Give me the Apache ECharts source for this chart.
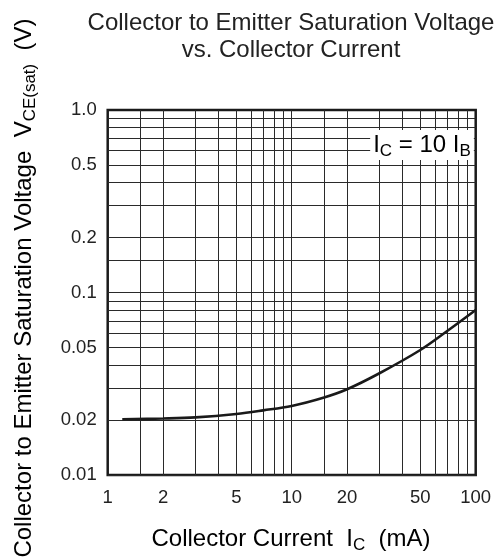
<!DOCTYPE html>
<html><head><meta charset="utf-8">
<script src="https://cdn.jsdelivr.net/npm/echarts@6/dist/echarts.min.js"></script>
<style>html,body{margin:0;padding:0;background:#fff}#c{width:503px;height:559px}</style>
</head><body><div id="c"></div>
<script>
// Curve: collector current (mA) vs VCE(sat) (V), IC = 10 IB
const currentMA = [1.2, 2, 3, 5, 7, 10, 15, 20, 30, 50, 70, 100];
const vceSat    = [0.0202, 0.0204, 0.0207, 0.0216, 0.0226, 0.0239, 0.0266, 0.0295, 0.0361, 0.0484, 0.0615, 0.0802];

// Grid lines
const xGridValues = [1.5, 2, 3, 4, 5, 6, 7, 8, 9, 10, 15, 20, 30, 40, 50, 60, 70, 80, 90];
const yGridValues = [0.015, 0.02, 0.03, 0.04, 0.05, 0.06, 0.07, 0.08, 0.09, 0.1, 0.15, 0.2, 0.3, 0.4, 0.5, 0.6, 0.7, 0.8, 0.9];

// Tick labels
const xTickValues = [1, 2, 5, 10, 20, 50, 100];
const xTickLabels = ['1', '2', '5', '10', '20', '50', '100'];
const yTickValues = [0.01, 0.02, 0.05, 0.1, 0.2, 0.5, 1];
const yTickLabels = ['0.01', '0.02', '0.05', '0.1', '0.2', '0.5', '1.0'];

const FONT = "'Liberation Sans', Arial, sans-serif";
const chart = echarts.init(document.getElementById('c'), null, {renderer: 'canvas'});

const gridLineStyle = {color: '#2a2a2a', width: 1, type: 'solid'};
const hiddenLine = {color: 'rgba(0,0,0,0)', width: 1, type: 'solid'};
const labelFont = {color: '#222', fontSize: 18.5, fontFamily: FONT};
const markData = [];
xGridValues.forEach(v => markData.push({xAxis: v, lineStyle: gridLineStyle, label: {show: false}}));
yGridValues.forEach(v => markData.push({yAxis: v, lineStyle: gridLineStyle, label: {show: false}}));
xTickValues.forEach((v, i) => markData.push({
  xAxis: v, lineStyle: hiddenLine,
  label: Object.assign({show: true, position: 'start', distance: 13, formatter: xTickLabels[i]}, labelFont)
}));
yTickValues.forEach((v, i) => markData.push({
  yAxis: v, lineStyle: hiddenLine,
  label: Object.assign({show: true, position: 'start', distance: 11, formatter: yTickLabels[i]}, labelFont)
}));

const main = {fontSize: 24, fontFamily: FONT, color: '#222', lineHeight: 30};
const sub = {fontSize: 17, fontFamily: FONT, color: '#222', lineHeight: 17, verticalAlign: 'bottom'};

chart.setOption({
  animation: false,
  backgroundColor: '#fff',
  grid: {left: 107.7, right: 27.3, top: 110, bottom: 84, show: true,
         borderColor: '#1a1a1a', borderWidth: 2.5, backgroundColor: 'transparent'},
  xAxis: {type: 'log', logBase: 10, min: 1, max: 100,
          axisLine: {show: false}, axisTick: {show: false}, axisLabel: {show: false},
          splitLine: {show: false}, minorSplitLine: {show: false}},
  yAxis: {type: 'log', logBase: 10, min: 0.01, max: 1,
          axisLine: {show: false}, axisTick: {show: false}, axisLabel: {show: false},
          splitLine: {show: false}, minorSplitLine: {show: false}},
  series: [{
    type: 'line',
    data: currentMA.map((x, i) => [x, vceSat[i]]),
    smooth: 0.35,
    showSymbol: false,
    symbol: 'none',
    lineStyle: {color: '#1a1a1a', width: 2.6},
    z: 5,
    markLine: {silent: true, symbol: ['none', 'none'], animation: false, data: markData, z: 1,
               label: Object.assign({}, labelFont)}
  }],
  graphic: [
    {type: 'text', x: 291, y: 9.5, z: 10,
     style: {text: 'Collector to Emitter Saturation Voltage\nvs. Collector Current',
             textAlign: 'center', textVerticalAlign: 'top',
             fontSize: 24, fontFamily: FONT, fill: '#222', lineHeight: 27}},
    {type: 'text', x: 291, y: 539, z: 10,
     style: {text: '{a|Collector Current  I}{s|C}{a|  (mA)}',
             textAlign: 'center', textVerticalAlign: 'middle',
             rich: {a: main, s: sub}}},
    {type: 'text', x: 24, y: 288, rotation: Math.PI / 2, z: 10,
     style: {text: '{a|Collector to Emitter Saturation Voltage  V}{s|CE(sat)}{a|  (V)}',
             textAlign: 'center', textVerticalAlign: 'middle',
             rich: {a: main, s: sub}}},
    {type: 'text', x: 422, y: 145, z: 10,
     style: {text: '{a|I}{s|C}{a| = 10 I}{s|B}',
             textAlign: 'center', textVerticalAlign: 'middle',
             backgroundColor: '#fff', padding: [0, 3, 0, 3],
             rich: {a: main, s: sub}}}
  ]
});
</script>
</body></html>
